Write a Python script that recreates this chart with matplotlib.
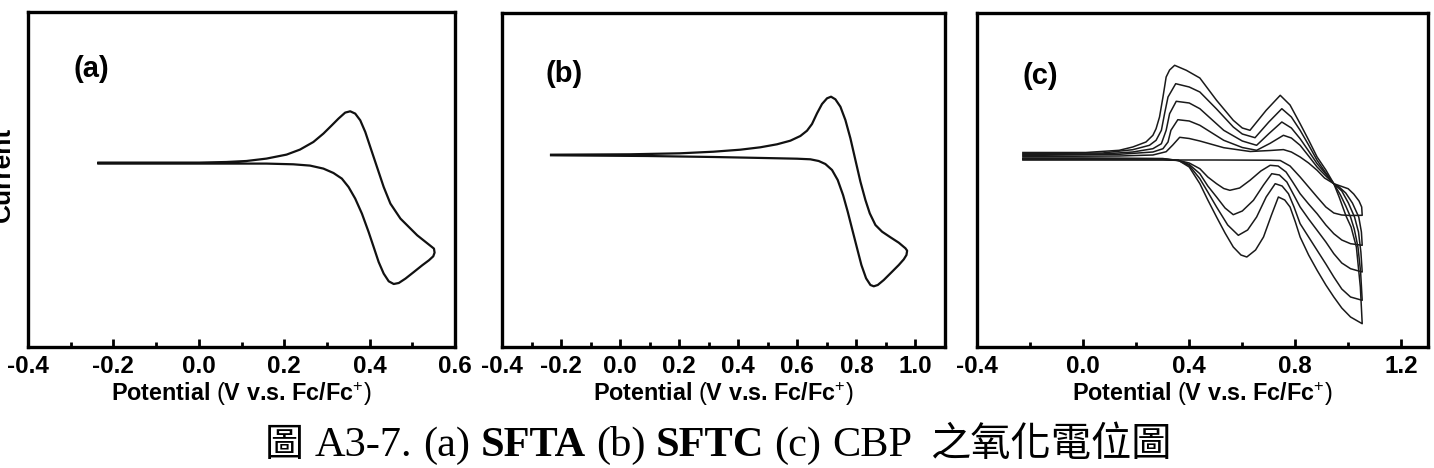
import matplotlib
matplotlib.use('Agg')
import matplotlib.pyplot as plt
from matplotlib.ticker import MultipleLocator, FuncFormatter

plt.rcParams['font.family'] = ['Liberation Sans', 'DejaVu Sans']
plt.rcParams['mathtext.fontset'] = 'custom'
plt.rcParams['mathtext.rm'] = 'Liberation Sans'
plt.rcParams['mathtext.bf'] = 'Liberation Sans:bold'
plt.rcParams['mathtext.it'] = 'Liberation Sans:italic'
plt.rcParams['mathtext.default'] = 'rm'

# ---------------- data (potential in V vs Fc/Fc+, current in arbitrary units) ----------------
# (a) SFTA : forward sweep then reverse sweep
a_fwd_E = [-0.2352, 0.0016, 0.1585, 0.2212, 0.2605, 0.2918, 0.3154, 0.335, 0.3507, 0.3663,
           0.382, 0.3977, 0.4095, 0.4212, 0.433, 0.4448, 0.4565, 0.4683, 0.484, 0.5036,
           0.5232, 0.5389, 0.5491, 0.5522]
a_fwd_I = [-0.06, -0.06, -0.06, -0.13, -0.26, -0.56, -1.0, -1.56, -2.4, -3.56,
           -5.06, -6.9, -8.4, -9.9, -11.06, -11.83, -12.1, -12.0, -11.56, -10.9,
           -10.23, -9.73, -9.33, -8.96]
a_rev_E = [0.5507, 0.5115, 0.4722, 0.4487, 0.433, 0.4173, 0.4016, 0.3899, 0.3781, 0.3663,
           0.3546, 0.3428, 0.3271, 0.3115, 0.2918, 0.2683, 0.2369, 0.2056, 0.1585, 0.1114,
           0.0644, 0.0016, -0.2352]
a_rev_I = [-8.56, -7.23, -5.56, -4.06, -2.4, -0.4, 1.6, 3.1, 4.27, 4.94,
           5.17, 5.04, 4.44, 3.77, 2.94, 2.1, 1.34, 0.84, 0.44, 0.2,
           0.1, 0.04, 0.04]

# (b) SFTC
b_fwd_E = [-0.2339, 0.0904, 0.3164, 0.4859, 0.5989, 0.6441, 0.6723, 0.6949, 0.7175, 0.7367,
           0.7548, 0.7706, 0.7864, 0.8023, 0.8169, 0.8328, 0.8475, 0.8588, 0.8723, 0.8927,
           0.9209, 0.9435, 0.9605, 0.9695, 0.9718]
b_fwd_I = [-0.03, -0.1, -0.2, -0.3, -0.37, -0.43, -0.6, -0.9, -1.5, -2.5,
           -4.0, -5.67, -7.5, -9.33, -11.0, -12.33, -13.0, -13.13, -13.0, -12.5,
           -11.67, -11.0, -10.43, -10.0, -9.57]
b_rev_E = [0.9661, 0.9435, 0.9153, 0.887, 0.8644, 0.8452, 0.8305, 0.8136, 0.7966, 0.7797,
           0.7627, 0.7458, 0.7288, 0.7141, 0.7006, 0.6836, 0.6667, 0.6497, 0.6328, 0.6102,
           0.5763, 0.5311, 0.4746, 0.4068, 0.3164, 0.2034, 0.0339, -0.2339]
b_rev_I = [-9.33, -8.77, -8.23, -7.67, -7.0, -5.83, -4.5, -2.67, -0.5, 1.67,
           3.5, 4.83, 5.57, 5.83, 5.67, 5.1, 4.17, 3.1, 2.43, 1.9,
           1.43, 1.07, 0.77, 0.53, 0.33, 0.17, 0.07, 0.03]

# (c) CBP, five successive cycles: forward (fwd) and reverse (rev) sweeps
c1_fwd_E = [-0.227, 0.0, 0.3, 0.5, 0.70, 0.743, 0.78, 0.818, 0.85, 0.882, 0.915, 0.945, 0.975, 1.008, 1.052]
c1_fwd_I = [-0.30, -0.30, -0.30, -0.30, -0.32, -0.35, -0.9, -2.0, -3.0, -4.0, -5.0, -5.6, -5.8, -5.85, -5.83]
c1_rev_E = [1.052, 1.050, 1.040, 1.020, 0.999, 0.970, 0.945, 0.91, 0.882, 0.850, 0.818, 0.785,
            0.755, 0.705, 0.63, 0.53, 0.44, 0.40, 0.364, 0.338, 0.313, 0.263, 0.136, -0.227]
c1_rev_I = [-5.83, -5.0, -4.4, -3.7, -3.17, -2.9, -2.67, -2.1, -1.33, -0.6, 0.0, 0.5,
            0.74, 0.65, 0.55, 0.93, 1.6, 1.85, 1.97, 1.2, 0.53, 0.2, 0.1, 0.05]

c2_fwd_E = [-0.227, 0.0, 0.30, 0.36, 0.40, 0.44, 0.47, 0.503, 0.53, 0.553, 0.59, 0.629, 0.67,
            0.705, 0.735, 0.765, 0.79, 0.818, 0.85, 0.882, 0.915, 0.945, 0.975, 1.008, 1.052]
c2_fwd_I = [-0.25, -0.25, -0.27, -0.35, -0.6, -1.17, -2.0, -2.67, -3.15, -3.33, -3.1, -2.33, -1.4,
            -0.83, -0.9, -1.5, -2.5, -3.67, -4.7, -5.67, -6.8, -7.67, -8.3, -8.67, -8.83]
c2_rev_E = [1.052, 1.049, 1.039, 1.015, 0.99, 0.965, 0.945, 0.915, 0.882, 0.85, 0.818, 0.785, 0.755,
            0.705, 0.654, 0.60, 0.53, 0.44, 0.40, 0.357, 0.331, 0.32, 0.301, 0.263, 0.136, -0.227]
c2_rev_I = [-8.83, -7.5, -6.0, -4.6, -3.6, -3.0, -2.67, -1.9, -1.0, 0.1, 1.17, 1.9, 2.17,
            1.37, 0.67, 0.95, 1.67, 3.17, 3.6, 3.73, 2.67, 1.5, 0.83, 0.5, 0.27, 0.15]

c3_fwd_E = [-0.227, 0.0, 0.30, 0.36, 0.40, 0.44, 0.47, 0.503, 0.535, 0.566, 0.60, 0.642, 0.68,
            0.711, 0.74, 0.768, 0.79, 0.818, 0.85, 0.882, 0.915, 0.945, 0.975, 1.008, 1.052]
c3_fwd_I = [-0.2, -0.2, -0.22, -0.35, -0.75, -1.67, -2.9, -4.0, -5.1, -5.77, -5.4, -4.33, -2.8,
            -1.67, -1.8, -2.5, -3.6, -5.0, -6.2, -7.33, -8.5, -9.67, -10.6, -11.17, -11.5]
c3_rev_E = [1.052, 1.047, 1.038, 1.023, 1.0, 0.975, 0.945, 0.915, 0.882, 0.85, 0.818, 0.785, 0.749,
            0.70, 0.654, 0.60, 0.53, 0.44, 0.40, 0.351, 0.326, 0.313, 0.295, 0.263, 0.187, 0.073, -0.227]
c3_rev_I = [-11.5, -9.5, -7.5, -6.0, -4.6, -3.4, -2.67, -1.7, -0.67, 0.6, 1.83, 2.9, 3.5,
            2.33, 1.17, 1.6, 2.67, 4.83, 5.4, 5.57, 4.33, 2.67, 1.33, 0.83, 0.5, 0.3, 0.25]

c4_fwd_E = [-0.227, 0.0, 0.30, 0.36, 0.40, 0.44, 0.47, 0.503, 0.545, 0.585, 0.62, 0.654, 0.69,
            0.724, 0.75, 0.774, 0.795, 0.818, 0.85, 0.882, 0.915, 0.945, 0.975, 1.008, 1.052]
c4_fwd_I = [-0.15, -0.15, -0.18, -0.35, -0.85, -2.17, -3.5, -5.0, -6.8, -7.83, -7.3, -6.0, -4.0,
            -2.67, -2.9, -3.67, -5.0, -6.67, -8.0, -9.33, -10.7, -12.0, -13.2, -14.0, -14.33]
c4_rev_E = [1.052, 1.046, 1.036, 1.022, 1.008, 0.99, 0.97, 0.945, 0.915, 0.882, 0.85, 0.818, 0.785,
            0.749, 0.70, 0.648, 0.60, 0.566, 0.503, 0.44, 0.40, 0.349, 0.32, 0.307, 0.295, 0.275,
            0.25, 0.187, 0.073, -0.227]
c4_rev_I = [-14.33, -11.5, -9.0, -7.2, -6.0, -4.9, -3.8, -2.67, -1.6, -0.33, 1.2, 2.67, 4.0,
            4.83, 3.5, 1.93, 2.3, 3.0, 4.8, 6.5, 7.0, 7.33, 6.0, 4.33, 2.67, 1.67,
            1.17, 0.73, 0.4, 0.35]

c5_fwd_E = [-0.227, 0.0, 0.30, 0.36, 0.40, 0.44, 0.47, 0.503, 0.535, 0.566, 0.595, 0.617, 0.65,
            0.68, 0.71, 0.736, 0.76, 0.78, 0.80, 0.818, 0.85, 0.882, 0.915, 0.945, 0.975, 1.008, 1.052]
c5_fwd_I = [-0.1, -0.1, -0.15, -0.35, -1.0, -2.67, -4.3, -6.0, -7.6, -9.0, -9.8, -10.0, -9.3,
            -8.0, -5.8, -4.0, -4.3, -5.0, -6.5, -8.0, -9.8, -11.33, -12.8, -14.0, -15.1, -16.0, -16.67]
c5_rev_E = [1.052, 1.045, 1.030, 1.010, 0.991, 0.965, 0.945, 0.915, 0.882, 0.85, 0.818, 0.78, 0.743,
            0.69, 0.629, 0.60, 0.566, 0.503, 0.44, 0.389, 0.345, 0.326, 0.313, 0.301, 0.288, 0.275,
            0.263, 0.237, 0.187, 0.136, 0.010, -0.227]
c5_rev_I = [-16.67, -13.0, -9.0, -7.0, -5.9, -4.0, -2.67, -1.3, 0.0, 1.7, 3.33, 5.2, 6.17,
            4.67, 2.67, 2.9, 3.67, 5.67, 7.9, 8.67, 9.17, 8.7, 8.0, 6.0, 4.0, 2.83,
            2.17, 1.5, 1.0, 0.67, 0.45, 0.45]

panel_labels = ['(a)', '(b)', '(c)']
xlims = [(-0.4, 0.6), (-0.4, 1.1), (-0.4, 1.3)]
major_steps = [0.2, 0.2, 0.4]
minor_steps = [0.1, 0.1, 0.2]
ylims = [(-18.4, 15.1), (-19.2, 14.2), (-19.0, 14.4)]
xlabel_text = r'Potential $\mathrm{(}$V v.s. Fc/Fc$^{+}$$\mathrm{)}$'
ylabel_text = 'Current'
caption_pieces = ['圖', 'A3-7.', '(a)', 'SFTA', '(b)', 'SFTC', '(c)', 'CBP', '之氧化電位圖']

# ---------------- figure ----------------
W, H = 1434, 468
fig = plt.figure(figsize=(W / 100, H / 100), dpi=100)

boxes_px = [(28, 455, 12, 347), (502, 945, 13, 347), (977, 1428, 13, 347)]
axes = []
for (l, r, t, b) in boxes_px:
    axes.append(fig.add_axes([l / W, (H - b) / H, (r - l) / W, (b - t) / H]))

label_pos = [(0.1475, 0.83), (0.14, 0.817), (0.14, 0.81)]
fmt = FuncFormatter(lambda v, p: f'{v:.1f}'.replace('-0.0', '0.0'))

for i, ax in enumerate(axes):
    ax.set_xlim(*xlims[i])
    ax.set_ylim(*ylims[i])
    ax.xaxis.set_major_locator(MultipleLocator(major_steps[i]))
    ax.xaxis.set_minor_locator(MultipleLocator(minor_steps[i]))
    ax.xaxis.set_major_formatter(fmt)
    ax.set_yticks([])
    ax.tick_params(axis='x', which='both', direction='in', top=False, bottom=True,
                   width=2.0, color='black')
    ax.tick_params(axis='x', which='major', length=6, pad=6, labelsize=17.5)
    ax.tick_params(axis='x', which='minor', length=3.5)
    for sp in ax.spines.values():
        sp.set_linewidth(2.4)
    ax.set_xlabel(xlabel_text, fontsize=16.8, fontweight='bold', labelpad=1)
    ax.text(label_pos[i][0], label_pos[i][1], panel_labels[i], transform=ax.transAxes,
            fontsize=21, fontweight='bold', ha='center', va='center')

for ax in axes:
    for lab in ax.get_xticklabels():
        lab.set_fontweight('bold')

axes[0].plot(a_fwd_E + a_rev_E, a_fwd_I + a_rev_I, color='#111111', lw=1.6,
             solid_joinstyle='round')
axes[1].plot(b_fwd_E + b_rev_E, b_fwd_I + b_rev_I, color='#111111', lw=1.6,
             solid_joinstyle='round')

cycles = [(c1_fwd_E, c1_fwd_I, c1_rev_E, c1_rev_I),
          (c2_fwd_E, c2_fwd_I, c2_rev_E, c2_rev_I),
          (c3_fwd_E, c3_fwd_I, c3_rev_E, c3_rev_I),
          (c4_fwd_E, c4_fwd_I, c4_rev_E, c4_rev_I),
          (c5_fwd_E, c5_fwd_I, c5_rev_E, c5_rev_I)]
for fE, fI, rE, rI in cycles:
    axes[2].plot(fE + rE, fI + rI, color='#1a1a1a', lw=1.1, solid_joinstyle='round')

# y label, partly cut at the left edge like the reference
fig.text(15 / W, (H - 174) / H, ylabel_text, rotation=90, ha='right', va='center',
         fontsize=19, fontweight='bold')

# ---------------- caption ----------------
cap_ax = fig.add_axes([0, 0, 1, 1])
cap_ax.set_axis_off()
cap_y = (H - 456) / H
serif = ['Liberation Serif', 'DejaVu Serif']
cjk = ['Noto Sans CJK TC', 'DejaVu Sans']
styles = [(cjk, 'normal', 28, 0),
          (serif, 'normal', 30.5, 8),
          (serif, 'normal', 30.5, 7.5),
          (serif, 'bold', 30.5, 7.5),
          (serif, 'normal', 30.5, 7.5),
          (serif, 'bold', 30.5, 7.5),
          (serif, 'normal', 30.5, 7.5),
          (serif, 'normal', 30.5, 7.5),
          (cjk, 'normal', 29, 13)]
prev = None
for s, (fam, w, fs, gap) in zip(caption_pieces, styles):
    if prev is None:
        t = cap_ax.text(265 / W, cap_y, s, transform=fig.transFigure, family=fam,
                        fontweight=w, fontsize=fs, ha='left', va='baseline')
    else:
        t = cap_ax.annotate(s, xy=(1, cap_y), xycoords=(prev, 'figure fraction'),
                            xytext=(gap, 0), textcoords='offset points', family=fam,
                            fontweight=w, fontsize=fs, ha='left', va='baseline')
    prev = t

fig.savefig('out.png', dpi=100)
